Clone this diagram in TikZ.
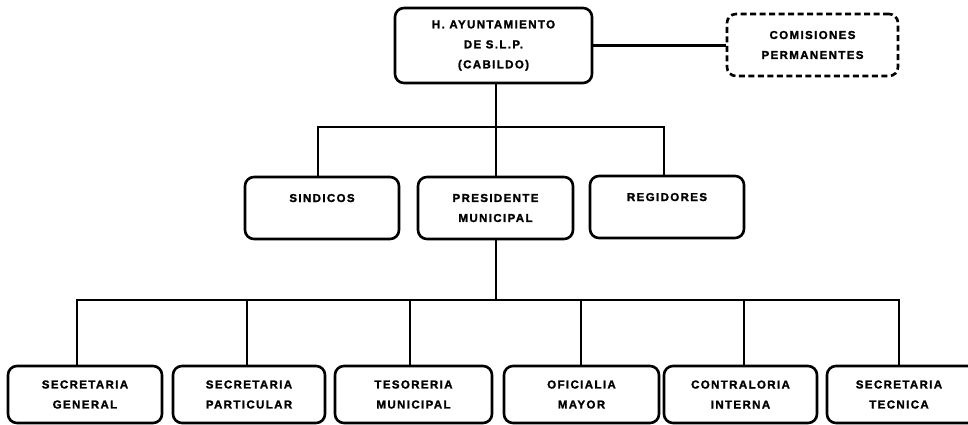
\documentclass[tikz,border=0pt]{standalone}
\usepackage{fontspec}
\setmainfont{Liberation Sans}[LetterSpace=12, BoldFeatures={FakeBold=1.6}]
\begin{document}
\begin{tikzpicture}[x=1pt,y=-1pt,
  orgbox/.style={draw, line width=2.6pt, rounded corners=9pt, inner sep=0pt,
    minimum height=62pt, align=center,
    font=\fontsize{11.5}{20}\selectfont\bfseries},
  dashbox/.style={orgbox, dash pattern=on 6pt off 3.5pt},
  conn/.style={line width=2.6pt}]
\useasboundingbox (0,0) rectangle (968,424);
\clip (0,0) rectangle (968,424);
% top
\node[orgbox, minimum width=197pt, minimum height=75pt] (top) at (493.5,45.5)
  {H. AYUNTAMIENTO\\DE S.L.P.\\(CABILDO)};
\node[dashbox, minimum width=171pt] (com) at (812.5,45)
  {COMISIONES\\PERMANENTES};
% middle
\node[orgbox, minimum width=154pt] (sind) at (322,208) {SINDICOS\\\mbox{}};
\node[orgbox, minimum width=155pt] (pres) at (495.5,208) {PRESIDENTE\\MUNICIPAL};
\node[orgbox, minimum width=154pt] (reg) at (667,207) {REGIDORES\\\mbox{}};
% bottom
\node[orgbox, minimum width=154pt, minimum height=57pt] (b1) at (85,394.5) {SECRETARIA\\GENERAL};
\node[orgbox, minimum width=152pt, minimum height=57pt] (b2) at (249,394.5) {SECRETARIA\\PARTICULAR};
\node[orgbox, minimum width=157pt, minimum height=57pt] (b3) at (413.5,394.5) {TESORERIA\\MUNICIPAL};
\node[orgbox, minimum width=155pt, minimum height=57pt] (b4) at (581.5,394.5) {OFICIALIA\\MAYOR};
\node[orgbox, minimum width=153pt, minimum height=57pt] (b5) at (740.5,394.5) {CONTRALORIA\\INTERNA};
\node[orgbox, minimum width=154pt, minimum height=57pt, text width=140pt] (b6) at (904,394.5) {\hspace*{-10pt}SECRETARIA\\\hspace*{-10pt}TECNICA};
% junctions
\coordinate (j0) at (496,127);
\coordinate (jl) at (318,127);
\coordinate (jr) at (664,127);
\coordinate (k0) at (496,300);
\coordinate (k1) at (77,300);
\coordinate (k2) at (247,300);
\coordinate (k3) at (410,300);
\coordinate (k4) at (581,300);
\coordinate (k5) at (744,300);
\coordinate (k6) at (899,300);
% connectors
\draw[conn] (top.east) -- (top.east -| com.west);
\draw[conn] (top.south -| j0) -- (pres.north -| j0);
\draw[conn] (sind.north -| jl) -- (jl) -- (jr) -- (reg.north -| jr);
\draw[conn] (pres.south -| k0) -- (k0);
\draw[conn] (b1.north -| k1) -- (k1) -- (k6) -- (b6.north -| k6);
\draw[conn] (k2) -- (b2.north -| k2);
\draw[conn] (k3) -- (b3.north -| k3);
\draw[conn] (k4) -- (b4.north -| k4);
\draw[conn] (k5) -- (b5.north -| k5);
\end{tikzpicture}
\end{document}
